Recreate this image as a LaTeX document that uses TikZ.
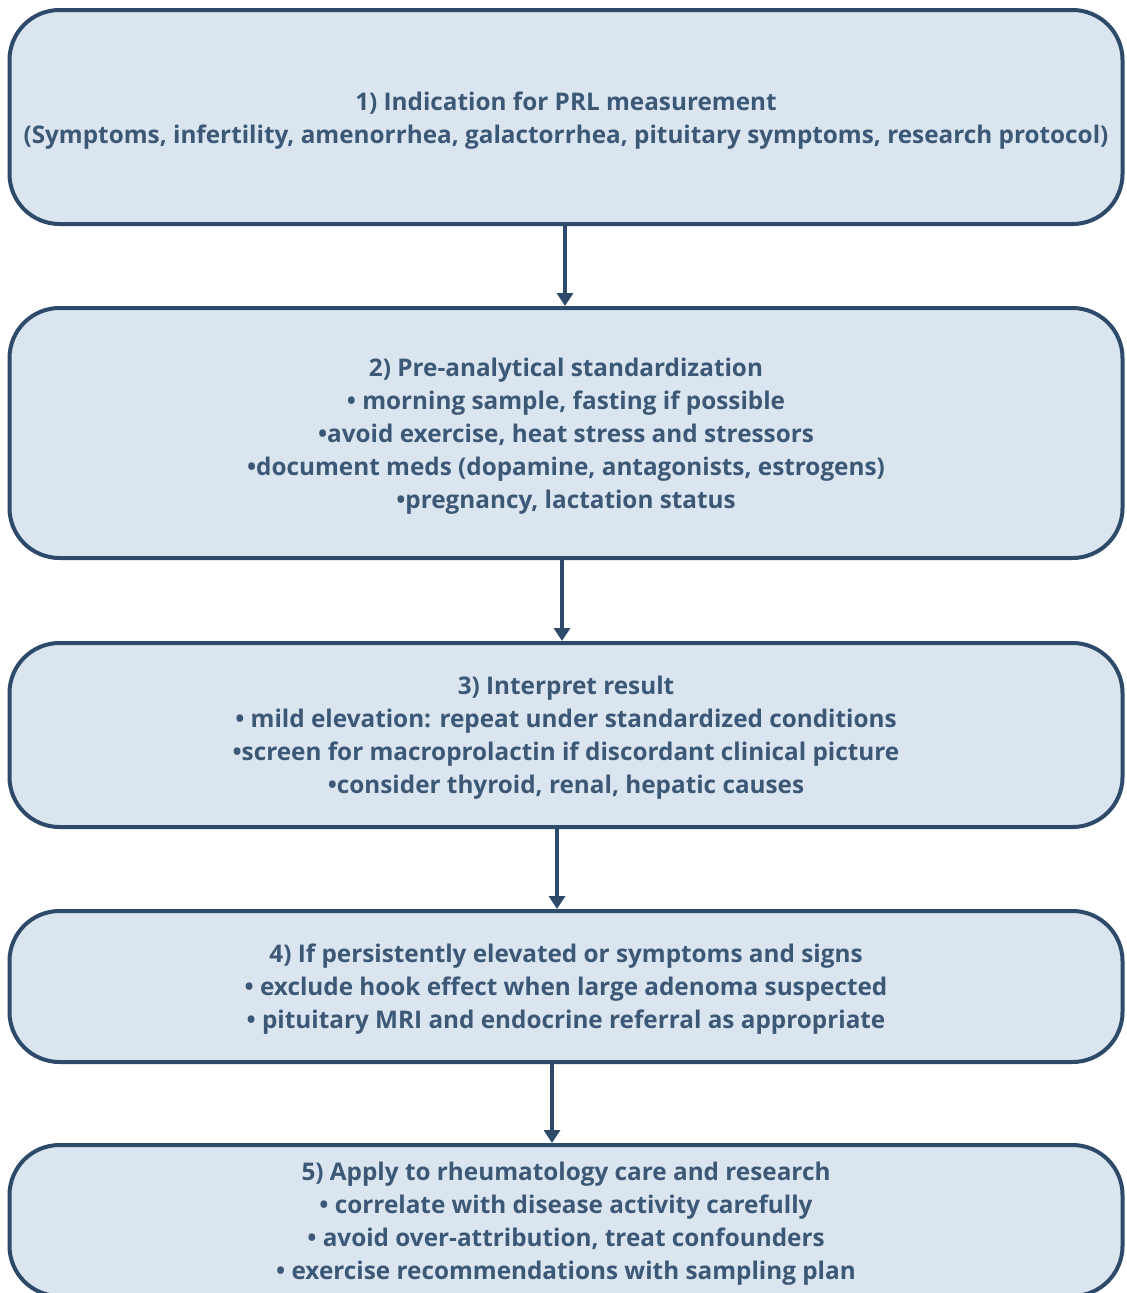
\documentclass[tikz,border=0pt]{standalone}
\usepackage{fontspec}
\setmainfont{Open Sans}[BoldFont={* Bold}]
\usetikzlibrary{arrows.meta}
\definecolor{boxfill}{HTML}{DBE5F0}
\definecolor{boxline}{HTML}{2E4A6A}
\definecolor{txt}{HTML}{3C5877}
\tikzset{
  stepbox/.style={draw=boxline, fill=boxfill, line width=4pt, rounded corners=50pt,
    minimum width=1113pt, inner sep=0pt},
  steptext/.style={align=center, text=txt, inner sep=0pt,
    font=\fontsize{24.3pt}{33pt}\selectfont\bfseries},
  conn/.style={draw=boxline, line width=3.5pt, -{Triangle[width=16pt,length=13pt]}}
}
\begin{document}
\begin{tikzpicture}[x=1pt,y=1pt]
\useasboundingbox[fill=white] (0,0) rectangle (1127,-1293);
\node[stepbox, minimum height=214pt] (b1) at (566,-117) {};
\node[stepbox, minimum height=250pt] (b2) at (566,-433) {};
\node[stepbox, minimum height=184pt] (b3) at (566,-735) {};
\node[stepbox, minimum height=151pt] (b4) at (566,-986.5) {};
\node[stepbox, minimum height=151pt] (b5) at (566,-1220.5) {};
\node[steptext] (t1) at ([yshift=-3.5pt]b1.center) {1) Indication for PRL measurement\\(Symptoms, infertility, amenorrhea, galactorrhea, pituitary symptoms, research protocol)};
\node[steptext] (t2) at ([yshift=-3.5pt]b2.center) {2) Pre-analytical standardization\\• morning sample, fasting if possible\\•avoid exercise, heat stress and stressors\\•document meds (dopamine, antagonists, estrogens)\\•pregnancy, lactation status};
\node[steptext] (t3) at ([yshift=-3pt]b3.center) {3) Interpret result\\• mild elevation: repeat under standardized conditions\\•screen for macroprolactin if discordant clinical picture\\•consider thyroid, renal, hepatic causes};
\node[steptext] (t4) at ([yshift=-3pt]b4.center) {4) If persistently elevated or symptoms and signs\\• exclude hook effect when large adenoma suspected\\• pituitary MRI and endocrine referral as appropriate};
\node[steptext] (t5) at ([yshift=-3.5pt]b5.center) {5) Apply to rheumatology care and research\\• correlate with disease activity carefully\\• avoid over-attribution, treat confounders\\• exercise recommendations with sampling plan};
\draw[conn] ([xshift=-1pt]b1.south) -- ([xshift=-1pt]b2.north);
\draw[conn] ([xshift=-4pt]b2.south) -- ([xshift=-4pt]b3.north);
\draw[conn] ([xshift=-9pt]b3.south) -- ([xshift=-9pt]b4.north);
\draw[conn] ([xshift=-14pt]b4.south) -- ([xshift=-14pt]b5.north);
\end{tikzpicture}
\end{document}
